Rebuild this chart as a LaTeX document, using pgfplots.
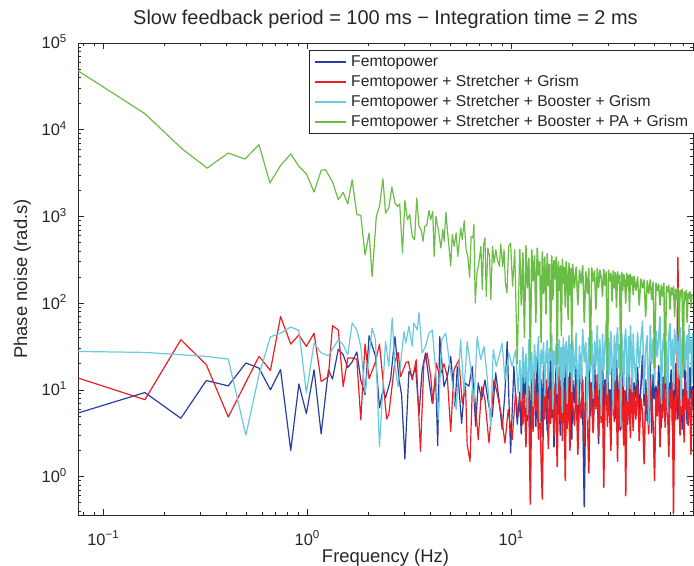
\documentclass[border=0pt]{standalone}
\usepackage{fontspec}
\setmainfont{Liberation Sans}
\usepackage{pgfplots}
\pgfplotsset{compat=1.18}
\usepackage{pgfplotstable}
\definecolor{cblue}{RGB}{40,62,160}
\definecolor{cred}{RGB}{236,30,36}
\definecolor{ccyan}{RGB}{104,202,220}
\definecolor{cgreen}{RGB}{106,189,69}
\definecolor{axgray}{RGB}{38,38,38}

% high-frequency part (shared frequency grid): f, Femtopower, +Stretcher+Grism, +Booster, +PA
\pgfplotstableread{
f b r c g
11.0 9.5 6.2 22 420
11.2 3.1 12 7.5 95
11.4 15 4.0 31 380
11.6 6.8 9.1 12 40
11.8 21 2.2 26 460
12.0 4.4 14 5.2 150
12.2 11 7.5 38 330
12.4 2.6 0.48 12 22
12.6 17 10 27 410
12.8 7.2 3.3 6.5 180
13.0 12 16 33 350
13.2 3.8 5.8 16 60
13.4 24 8.8 24 430
13.6 8.1 2.7 41 210
13.8 5.5 11 4.2 300
14.0 13 1.6 29 35
14.2 2.9 0.55 20 390
14.4 19 9.4 35 130
14.6 6.0 4.6 8.5 340
14.8 10 13 25 75
15.0 3.4 6.5 37 370
15.2 16 2.1 11 160
15.4 7.9 10 30 280
15.6 27 4.1 22 28
15.8 4.8 15 43 350
16.0 12 7.0 6.0 110
16.2 2.2 3.0 28 310
16.4 9.0 12 19 190
16.6 18 5.2 34 340
16.8 5.1 1.3 9.0 20
17.0 14 8.3 26 300
17.2 7.4 18 38 140
17.4 3.0 4.4 13 270
17.6 21 9.9 31 42
17.8 8.6 2.6 5.5 320
18.0 4.2 12 40 170
18.2 15 6.1 14 260
18.4 6.5 0.9 29 90
18.6 26 10 36 300
18.8 3.6 3.6 7.0 200
19.0 11 14 27 65
19.2 5.7 5.4 42 290
19.4 17 2.0 16 125
19.6 8.9 9.0 33 250
19.8 2.7 16 9.5 30
20.0 13 6.9 37 280
20.4 7.1 3.9 14 150
20.8 19 11 45 260
21.2 4.5 1.8 6.8 95
21.6 10 8.2 32 240
22.0 25 4.7 12 170
22.4 6.3 13 50 270
22.8 0.45 2.4 21 60
23.2 14 9.6 35 230
23.6 8.0 5.6 4.5 130
24.0 31 1.1 40 250
24.4 5.0 12 16 20
24.8 12 7.3 48 255
25.2 3.3 3.2 8.0 180
25.6 20 10 36 235
26.0 7.7 6.0 19 85
26.4 11 15 55 250
26.8 2.4 2.9 10 150
27.2 16 8.7 38 240
27.6 6.2 4.2 5.0 200
28.0 23 11 44 120
28.4 4.0 0.75 17 245
28.8 13 6.6 34 160
29.2 8.4 13 62 230
29.6 29 3.8 9.0 14
30.0 5.3 9.2 39 240
30.4 10 5.0 15 180
30.8 3.0 2.0 47 220
31.2 18 12 22 105
31.6 7.0 7.8 6.0 235
32.0 12 4.3 42 150
32.4 4.7 16 13 225
32.8 22 6.4 36 90
33.2 9.3 1.5 52 230
33.6 6.0 10 18 170
34.0 15 3.5 33 210
34.4 3.4 8.0 3.8 15
34.8 11 13 45 225
35.2 27 5.3 24 140
35.6 5.8 2.3 11 215
36.0 9.7 9.7 38 180
36.4 2.0 0.6 50 100
36.8 14 7.1 20 220
37.2 7.5 4.0 7.5 155
37.6 20 11 41 210
38.0 4.3 6.0 16 80
38.4 10 2.8 55 215
38.8 6.8 14 28 165
39.2 17 8.4 9.5 200
39.6 3.8 3.4 44 125
40.0 12 9.9 23 205
40.8 8.2 4.6 12 140
41.6 18 12 46 200
42.4 5.0 2.6 18 95
43.2 11 8.0 38 190
44.0 25 5.5 62 150
44.8 6.6 1.4 9.0 185
45.6 13 10 30 70
46.4 4.4 6.8 42 180
47.2 9.8 3.1 4.0 130
48.0 21 13 55 185
48.8 3.2 7.3 20 110
49.6 15 4.2 39 175
50.4 7.9 0.9 11 18
51.2 11 9.4 48 170
52.0 5.4 5.0 24 140
52.8 19 11 40 165
53.6 8.8 2.2 70 95
54.4 3.7 7.7 7.0 160
55.2 14 4.8 32 120
56.0 6.1 14 45 170
56.8 23 3.7 15 12
57.6 9.1 8.9 36 155
58.4 4.9 5.9 5.5 135
59.2 12 1.7 43 160
60.0 7.3 10 58 85
60.8 17 6.2 19 150
61.6 3.9 12 38 125
62.4 10 0.37 10 155
63.2 5.6 7.9 50 70
64.0 20 4.5 26 145
64.8 8.0 9.6 44 110
65.6 4.6 335 14 150
66.4 13 6.6 36 45
67.2 6.9 3.0 52 140
68.0 16 11 6.5 120
68.8 3.5 5.2 40 145
69.6 10 8.4 29 14
70.4 5.2 2.5 47 135
71.2 22 13 17 110
72.0 8.5 6.0 33 140
72.8 4.1 9.3 43 60
73.6 12 3.9 8.0 130
74.4 6.7 15 56 115
75.2 18 5.7 27 135
76.0 9.4 1.8 38 90
76.8 5.9 7.6 12 125
77.6 11 10 45 120
}\hightab

\begin{document}
\begin{tikzpicture}
\useasboundingbox (-78bp,-51bp) rectangle (616bp,515bp);
\begin{axis}[
  at={(0,0)}, anchor=south west,
  scale only axis, width=615bp, height=472bp,
  xmode=log, ymode=log,
  xmin=0.0752, xmax=77.8, ymin=0.36, ymax=1e5,
  xtick={0.1,1,10},
  xticklabels={10\textsuperscript{−1},10\textsuperscript{0},10\textsuperscript{1}},
  ytick={1,10,100,1000,10000,100000},
  yticklabels={10\textsuperscript{0},10\textsuperscript{1},10\textsuperscript{2},10\textsuperscript{3},10\textsuperscript{4},10\textsuperscript{5}},
  minor xtick={0.08,0.09,0.2,0.3,0.4,0.5,0.6,0.7,0.8,0.9,2,3,4,5,6,7,8,9,20,30,40,50,60,70},
  minor ytick={0.4,0.5,0.6,0.7,0.8,0.9,2,3,4,5,6,7,8,9,20,30,40,50,60,70,80,90,200,300,400,500,600,700,800,900,2000,3000,4000,5000,6000,7000,8000,9000,20000,30000,40000,50000,60000,70000,80000,90000},
  tick align=inside,
  major tick length=6bp, minor tick length=3bp,
  every tick/.style={axgray, line width=0.6pt},
  axis line style={axgray, line width=0.8pt},
  tick label style={font=\fontsize{16.5}{19}\selectfont, text=axgray},
  xticklabel style={inner sep=0pt, anchor=base, yshift=-30bp},
  yticklabel style={inner sep=0pt, anchor=base east, xshift=-11bp, yshift=-5.9bp},
  title={Slow feedback period = 100 ms − Integration time = 2 ms},
  title style={font=\fontsize{20}{23}\selectfont, text=axgray, at={(axis description cs:0.5,1.027)}, anchor=base},
  xlabel={Frequency (Hz)},
  xlabel style={font=\fontsize{18.5}{21}\selectfont, text=axgray, at={(axis description cs:0.5,-0.0996)}, anchor=base},
  ylabel={Phase noise (rad.s)},
  ylabel style={font=\fontsize{18.5}{21}\selectfont, text=axgray, at={(axis description cs:-0.0829,0.5)}, anchor=base},
  every axis plot/.append style={line width=1.2pt, line join=round},
  legend image code/.code={\draw[#1, line width=1.2pt] (0bp,0bp) -- (31bp,0bp);},
  legend cell align=left,
  legend style={at={(axis description cs:1.003,0.985)}, anchor=north east,
    draw=axgray, line width=0.8pt, fill=white,
    font=\fontsize{15.7}{18}\selectfont, text=axgray,
    inner xsep=5bp, inner ysep=2bp, row sep=1.1bp, column sep=3.6bp,
    nodes={inner sep=1.2bp, text height=12.5bp, text depth=4bp}},
]
% low-frequency parts (f <= 11 Hz), one per series, with legend entries
% Femtopower
\addplot[cblue] coordinates {
(0.0752,5.4) (0.16,9.3) (0.24,4.7) (0.32,12.8) (0.41,11.1) (0.50,20.4) (0.58,17.8) (0.66,10.0) (0.74,17.1) (0.83,2.0) (0.91,11.7) (0.99,5.3) (1.08,17) (1.17,3.1) (1.27,17) (1.33,13.3) (1.42,29.5) (1.50,25.4) (1.58,18.1) (1.66,21) (1.75,27.3) (1.83,13) (1.92,8.8) (2.01,42) (2.16,24.3) (2.26,6.2) (2.35,10) (2.42,8.1) (2.56,13) (2.69,41) (2.82,13) (2.90,8.8) (3.01,1.59) (3.15,16.3) (3.27,14.2) (3.40,18) (3.53,5.2) (3.66,17) (3.80,26.6) (3.95,13) (4.10,7) (4.26,14.2) (4.36,2.26) (4.46,41) (4.68,10.9) (4.86,14.2) (5.05,24.3) (5.30,6.4) (5.44,18.6) (5.71,4.1) (5.93,12) (6.20,11) (6.44,18.6) (6.69,3.8) (6.89,12) (7.16,7.7) (7.43,13) (7.78,6.4) (8.07,4.9) (8.39,15.7) (8.71,7.7) (9.03,3.5) (9.31,9.2) (9.55,36) (9.74,7.7) (9.93,1.87) (10.3,18.6) (10.7,4.0) (11.0,9.5)
};
\addlegendentry{Femtopower}
% + Stretcher + Grism
\addplot[cred] coordinates {
(0.0752,13.7) (0.16,7.7) (0.24,37.8) (0.32,19.5) (0.41,4.86) (0.58,24.3) (0.66,16.7) (0.74,70) (0.83,33.7) (0.91,43) (0.99,31.7) (1.08,45) (1.17,12.5) (1.27,14.2) (1.33,55) (1.42,49) (1.50,10.9) (1.58,23.3) (1.66,23.3) (1.75,22.5) (1.83,4.5) (1.92,33.7) (2.01,13.4) (2.16,21) (2.26,33.7) (2.35,13) (2.45,4.6) (2.51,5.2) (2.69,21.3) (2.79,27) (2.87,14.2) (3.04,20.4) (3.13,21.3) (3.27,13) (3.42,22.2) (3.59,1.95) (3.73,20.4) (3.87,26.6) (4.03,14.2) (4.13,7.0) (4.29,20.4) (4.46,14.2) (4.68,20) (4.86,14) (5.05,3.3) (5.24,17) (5.54,22.2) (5.75,7) (5.97,10.9) (6.08,2.33) (6.28,1.49) (6.44,10) (6.62,8.5) (6.89,2.66) (7.16,10.9) (7.43,7.7) (7.78,2.43) (8.23,13) (8.54,9) (8.97,4.9) (9.31,2.43) (9.66,5.9) (10.1,2.66) (10.5,9.2) (10.8,4.9) (11.0,6.2)
};
\addlegendentry{Femtopower + Stretcher + Grism}
% + Stretcher + Booster + Grism
\addplot[ccyan] coordinates {
(0.0752,27.7) (0.16,27) (0.32,24.3) (0.41,22.6) (0.50,3.0) (0.58,14.9) (0.66,41) (0.74,45) (0.83,53) (0.91,48.4) (0.99,9.2) (1.08,34.5) (1.17,26.6) (1.27,24.7) (1.42,37.8) (1.50,33) (1.58,25.4) (1.66,59) (1.75,49) (1.83,31.7) (1.92,9.2) (2.08,51.6) (2.16,37.8) (2.26,2.2) (2.42,36) (2.51,18.6) (2.61,67.4) (2.69,18.6) (2.79,10.9) (2.98,47) (3.04,34.5) (3.15,54) (3.27,31.7) (3.33,59) (3.46,49) (3.53,78) (3.66,26.6) (3.80,31.7) (3.95,45) (4.10,49) (4.26,17) (4.39,4.5) (4.56,37.8) (4.77,45) (4.91,26.6) (5.14,12) (5.37,5.9) (5.65,37.8) (5.86,9.2) (6.08,36) (6.32,18.6) (6.56,7.0) (6.81,41) (7.08,22.2) (7.35,31.7) (7.62,14.2) (7.93,3.8) (8.16,29) (8.44,18.6) (8.71,24.3) (9.03,34.5) (9.31,13) (9.74,26.6) (10.1,18.6) (10.5,29) (10.8,9.2) (11.0,22)
};
\addlegendentry{Femtopower + Stretcher + Booster + Grism}
% + Stretcher + Booster + PA + Grism
\addplot[cgreen] coordinates {
(0.0752,47900) (0.16,15300) (0.244,5990) (0.323,3610) (0.41,5380) (0.495,4590) (0.58,6710) (0.656,2430) (0.74,3870) (0.83,5250) (0.91,3780) (0.99,3100) (1.08,1910) (1.17,3400) (1.23,3460) (1.33,2500) (1.42,1560) (1.50,1890) (1.58,1390) (1.66,2630) (1.75,1050) (1.83,1030) (1.92,359) (2.01,643) (2.08,203) (2.18,1000) (2.26,1300) (2.35,2720) (2.42,1090) (2.51,1250) (2.60,2180) (2.69,1430) (2.77,1300) (2.84,1390) (2.93,378) (3.01,1520) (3.10,916) (3.18,1050) (3.27,588) (3.36,538) (3.44,1630) (3.53,767) (3.62,703) (3.69,515) (3.77,767) (3.86,802) (3.95,1170) (4.03,916) (4.12,1140) (4.19,346) (4.27,1000) (4.39,703) (4.52,432) (4.62,703) (4.69,515) (4.78,1120) (4.88,644) (5.05,270) (5.14,615) (5.25,451) (5.37,644) (5.47,346) (5.65,735) (5.75,538) (5.88,891) (6.01,413) (6.13,346) (6.25,198) (6.36,588) (6.49,564) (6.56,802) (6.66,100) (6.79,222) (6.94,290) (7.10,451) (7.21,143) (7.32,472) (7.43,564) (7.54,119) (7.68,432) (7.83,346) (7.94,109) (8.09,451) (8.24,290) (8.40,413) (8.55,316) (8.75,265) (8.88,481) (9.08,265) (9.22,413) (9.36,171) (9.53,131) (9.71,451) (9.93,493) (10.15,156) (10.4,413) (10.7,20) (11.0,420)
};
\addlegendentry{Femtopower + Stretcher + Booster + PA + Grism}
% high-frequency parts (f >= 11 Hz), same drawing order, drawn a little heavier where the trace is dense
\addplot[cblue, forget plot, line width=1.5pt] table[x=f, y=b] {\hightab};
\addplot[cred, forget plot, line width=1.5pt] table[x=f, y=r] {\hightab};
\addplot[ccyan, forget plot, line width=1.5pt] table[x=f, y=c] {\hightab};
\addplot[cgreen, forget plot, line width=1.5pt] table[x=f, y=g] {\hightab};
\end{axis}
\end{tikzpicture}
\end{document}
